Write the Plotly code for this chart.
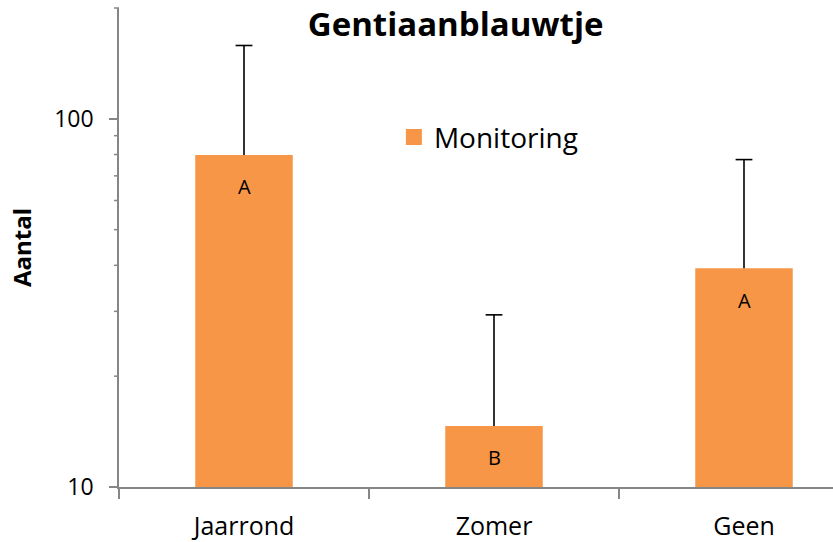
import numpy as np
import plotly.graph_objects as go

# Data
categories = ["Jaarrond", "Zomer", "Geen"]
counts = [79.8, 14.65, 39.3]
err_plus = [78.4, 14.7, 38.2]
groups = ["A", "B", "A"]
series_name = "Monitoring"
title_text = "Gentiaanblauwtje"
y_title = "Aantal"
major_ticks = [10, 100]
minor_ticks = [20, 30, 40, 50, 60, 70, 80, 90, 200]

ORANGE = "#F79646"
AXIS_GREY = "#868686"
FONT = "'Open Sans', sans-serif"

PLOT_W = 833 - 119  # width of the plotting area in px
log_range = [1, np.log10(200)]

fig = go.Figure()

fig.add_trace(go.Bar(
    x=categories,
    y=counts,
    width=0.39,
    marker=dict(color=ORANGE, line=dict(width=0)),
    showlegend=False,
    hoverinfo="x+y",
))

# upper error whiskers: stem from the bar top up to value + error
tops = [v + e for v, e in zip(counts, err_plus)]
stem_x, stem_y = [], []
for cat, v, t in zip(categories, counts, tops):
    stem_x += [cat, cat, None]
    stem_y += [v, t, None]
fig.add_trace(go.Scatter(
    x=stem_x, y=stem_y, mode="lines",
    line=dict(color="black", width=1.6),
    showlegend=False, hoverinfo="skip",
))
# caps on the whiskers
fig.add_trace(go.Scatter(
    x=categories, y=tops, mode="markers",
    marker=dict(symbol="line-ew", size=12,
                line=dict(color="black", width=1.6)),
    showlegend=False, hoverinfo="skip",
))

# legend entry with a larger square swatch
fig.add_trace(go.Scatter(
    x=[None], y=[None], mode="markers", name=series_name,
    marker=dict(symbol="square", size=19, color=ORANGE),
))

# group letters just inside the top of each bar
for cat, val, g in zip(categories, counts, groups):
    fig.add_annotation(x=cat, y=np.log10(val), xref="x", yref="y",
                       text=g, showarrow=False, yshift=-32,
                       font=dict(family=FONT, size=20, color="black"))

# short minor tick marks left of the log axis, placed in paper units
# (fraction of the log range) so they are not clipped to the plot area
for v in minor_ticks:
    frac = (np.log10(v) - log_range[0]) / (log_range[1] - log_range[0])
    fig.add_shape(type="line", xref="paper", yref="paper",
                  x0=-5 / PLOT_W, x1=0, y0=frac, y1=frac,
                  line=dict(color=AXIS_GREY, width=1.5), layer="above")

fig.update_layout(
    width=833, height=542,
    margin=dict(l=119, r=0, t=8, b=55, autoexpand=False),
    plot_bgcolor="white", paper_bgcolor="white",
    font=dict(family=FONT, color="black"),
    title=dict(text="<b>%s</b>" % title_text, x=0.547, xanchor="center",
               xref="container", yref="container",
               y=0.955, yanchor="middle",
               font=dict(family=FONT, size=33, color="black")),
    legend=dict(x=0.385, y=0.73, xanchor="left", yanchor="middle",
                xref="paper", yref="paper",
                font=dict(family=FONT, size=28, color="black"),
                itemsizing="trace", bgcolor="rgba(0,0,0,0)"),
    xaxis=dict(
        type="category", range=[-0.5, 2.356],
        showline=True, linecolor=AXIS_GREY, linewidth=1.5,
        ticks="outside", tickson="boundaries", ticklen=10,
        tickcolor=AXIS_GREY, tickwidth=1.5,
        showgrid=False, zeroline=False,
        ticklabelstandoff=16,
        tickfont=dict(family=FONT, size=25, color="black"),
    ),
    yaxis=dict(
        type="log", range=log_range,
        showline=True, linecolor=AXIS_GREY, linewidth=1.5,
        ticks="outside", ticklen=8, tickcolor=AXIS_GREY, tickwidth=1.5,
        tickmode="array", tickvals=major_ticks,
        ticktext=[str(v) for v in major_ticks],
        showgrid=False, zeroline=False, automargin=False,
        ticklabelstandoff=11,
        tickfont=dict(family=FONT, size=23, color="black"),
        title=dict(text="<b>%s</b>" % y_title, standoff=16,
                   font=dict(family=FONT, size=24, color="black")),
    ),
)

fig.write_html("out.html")
